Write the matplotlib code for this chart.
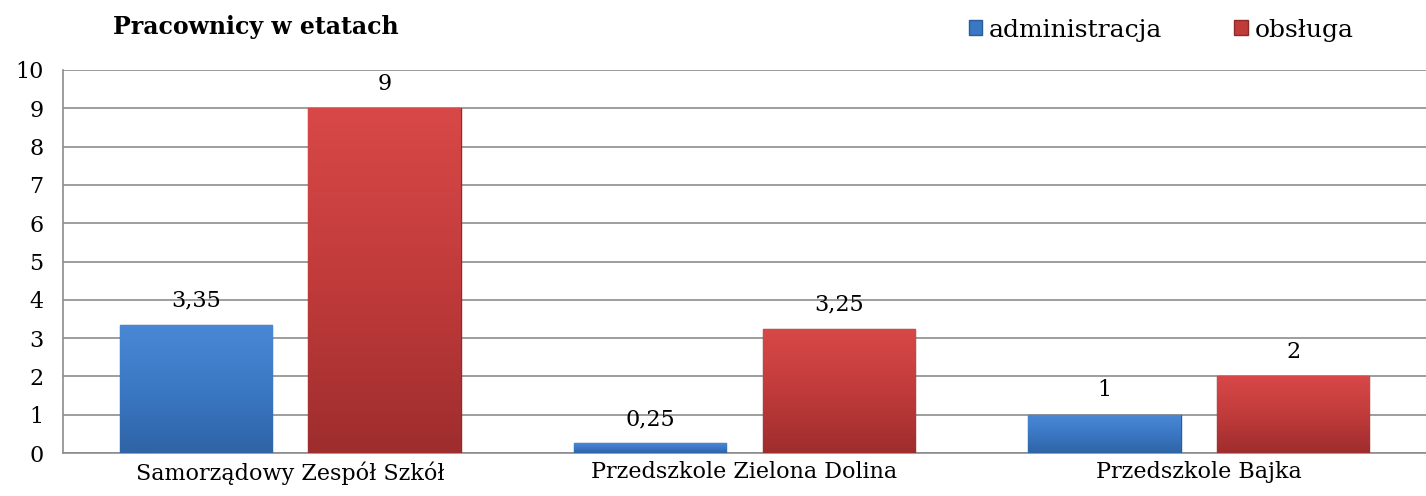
import matplotlib.pyplot as plt
import numpy as np
from matplotlib.colors import LinearSegmentedColormap
from matplotlib.patches import Patch

categories = ["Samorządowy Zespół Szkół", "Przedszkole Zielona Dolina", "Przedszkole Bajka"]
administracja = [3.35, 0.25, 1]
obsluga = [9, 3.25, 2]
series_names = ["administracja", "obsługa"]
labels_admin = ["3,35", "0,25", "1"]
labels_obs = ["9", "3,25", "2"]

BLUE = "#3b78c4"
RED = "#c13b3b"
blue_cm = LinearSegmentedColormap.from_list("b", ["#2f64a6", "#3b78c4", "#4a88d6"])
red_cm = LinearSegmentedColormap.from_list("r", ["#9f2d2d", "#c13b3b", "#d84848"])

plt.rcParams["font.family"] = ["DejaVu Serif"]

fig = plt.figure(figsize=(14.26, 4.96), dpi=100)
ax = fig.add_axes([63 / 1426, 1 - 453 / 496, 1 - 63 / 1426, (453 - 70) / 496])

x = np.arange(len(categories))
w = 0.335
off = 0.2075
b1 = ax.bar(x - off, administracja, w, color=BLUE, edgecolor="#2c5c98", linewidth=1.0, zorder=3)
b2 = ax.bar(x + off, obsluga, w, color=RED, edgecolor="#8f2a2a", linewidth=1.0, zorder=3)

# vertical shading inside each bar
grad = np.linspace(0, 1, 100).reshape(-1, 1)
for bars, cm in ((b1, blue_cm), (b2, red_cm)):
    for rect in bars:
        x0, h = rect.get_x(), rect.get_height()
        im = ax.imshow(grad, cmap=cm, origin="lower", aspect="auto",
                       extent=(x0, x0 + rect.get_width(), 0, h), zorder=3.5)
        im.set_clip_path(rect)

for rect, lab in zip(b1, labels_admin):
    ax.text(rect.get_x() + rect.get_width() / 2, rect.get_height() + 0.35, lab,
            ha="center", va="bottom", fontsize=16)
for rect, lab in zip(b2, labels_obs):
    ax.text(rect.get_x() + rect.get_width() / 2, rect.get_height() + 0.35, lab,
            ha="center", va="bottom", fontsize=16)

ax.set_xlim(-0.5, 2.5)
ax.set_ylim(0, 10)
ax.set_yticks(range(0, 11))
ax.set_xticks(x)
ax.set_xticklabels(categories, fontsize=16)
ax.tick_params(axis="y", labelsize=16, length=0, pad=14)
ax.tick_params(axis="x", length=0, pad=6)
ax.yaxis.grid(True, color="#8c8c8c", linewidth=1.2, zorder=0)
ax.set_axisbelow(True)
for s in ["top", "right"]:
    ax.spines[s].set_visible(False)
ax.spines["left"].set_color("#8c8c8c")
ax.spines["bottom"].set_color("#8c8c8c")
ax.spines["left"].set_linewidth(1.2)
ax.spines["bottom"].set_linewidth(1.2)

fig.text(113 / 1426, 1 - 27 / 496, "Pracownicy w etatach", fontsize=17, fontweight="bold",
         ha="left", va="center")

handles = [Patch(facecolor=BLUE, edgecolor="#2c5c98"), Patch(facecolor=RED, edgecolor="#8f2a2a")]
fig.legend(handles, series_names, loc="center left", bbox_to_anchor=(956 / 1426, 1 - 30 / 496),
           ncol=2, frameon=False, fontsize=18, handlelength=0.55, handleheight=0.55,
           handletextpad=0.25, columnspacing=2.9, borderpad=0)

fig.savefig("out.png", dpi=100)
